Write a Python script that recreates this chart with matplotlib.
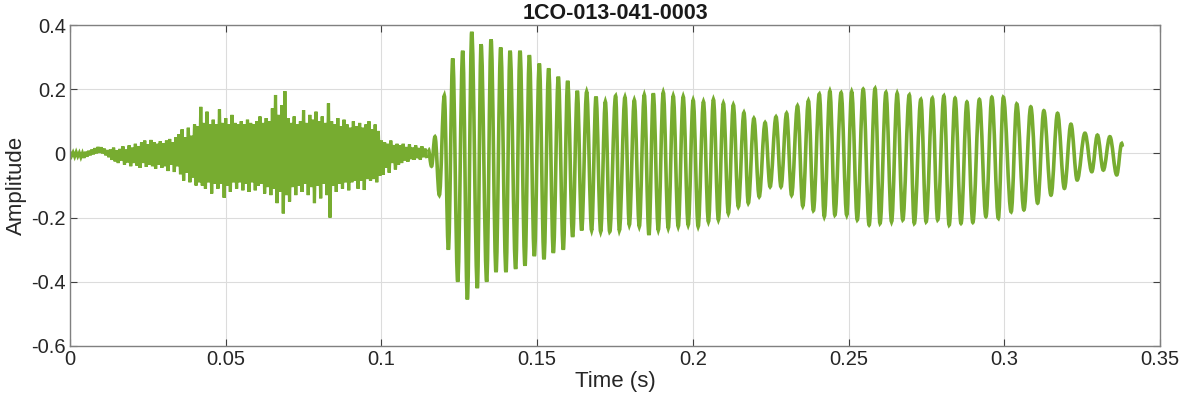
import numpy as np
import matplotlib
matplotlib.use("Agg")
import matplotlib.pyplot as plt
from matplotlib.path import Path
from matplotlib.patches import PathPatch

plt.rcParams['font.family'] = ['Liberation Sans', 'DejaVu Sans']

title = "1CO-013-041-0003"

# unvoiced part: upper / lower extremes in every 1 ms slot, from t = 0
noise_step = 0.001
noise_hi = [0.004, 0.003, 0.004, 0.002, 0.001, 0.005, 0.008, 0.012, 0.016, 0.020,
            0.019, 0.015, 0.010, 0.012, 0.018, 0.010, 0.014, 0.022, 0.012, 0.025,
            0.018, 0.030, 0.022, 0.035, 0.040, 0.028, 0.042, 0.035, 0.030, 0.038,
            0.032, 0.040, 0.045, 0.035, 0.050, 0.060, 0.075, 0.050, 0.080, 0.055,
            0.090, 0.085, 0.145, 0.095, 0.130, 0.090, 0.105, 0.090, 0.137, 0.095,
            0.110, 0.090, 0.120, 0.095, 0.090, 0.100, 0.090, 0.105, 0.095, 0.090,
            0.100, 0.115, 0.095, 0.110, 0.100, 0.140, 0.182, 0.120, 0.150, 0.194,
            0.110, 0.095, 0.115, 0.090, 0.100, 0.135, 0.095, 0.120, 0.105, 0.130,
            0.100, 0.115, 0.095, 0.156, 0.100, 0.090, 0.110, 0.085, 0.105, 0.090,
            0.080, 0.100, 0.085, 0.095, 0.080, 0.090, 0.100, 0.075, 0.090, 0.070,
            0.040, 0.035, 0.030, 0.040, 0.026, 0.030, 0.025, 0.030, 0.020, 0.028,
            0.018, 0.025, 0.017, 0.022, 0.015]
noise_lo = [-0.008, -0.010, -0.009, -0.012, -0.014, -0.010, -0.006, -0.003, 0.000, 0.002,
            0.000, -0.006, -0.012, -0.020, -0.025, -0.030, -0.022, -0.035, -0.028, -0.040,
            -0.030, -0.038, -0.045, -0.030, -0.042, -0.035, -0.040, -0.048, -0.035, -0.045,
            -0.040, -0.055, -0.035, -0.058, -0.040, -0.065, -0.085, -0.060, -0.090, -0.075,
            -0.100, -0.090, -0.100, -0.110, -0.090, -0.125, -0.095, -0.110, -0.095, -0.138,
            -0.100, -0.120, -0.090, -0.110, -0.090, -0.115, -0.095, -0.120, -0.090, -0.115,
            -0.100, -0.095, -0.125, -0.105, -0.130, -0.110, -0.155, -0.120, -0.187, -0.130,
            -0.150, -0.105, -0.130, -0.100, -0.120, -0.095, -0.130, -0.105, -0.155, -0.100,
            -0.140, -0.095, -0.130, -0.200, -0.100, -0.120, -0.095, -0.110, -0.090, -0.115,
            -0.090, -0.085, -0.110, -0.085, -0.114, -0.080, -0.085, -0.080, -0.090, -0.070,
            -0.067, -0.045, -0.060, -0.030, -0.050, -0.035, -0.030, -0.022, -0.026, -0.018,
            -0.020, -0.015, -0.020, -0.012, -0.010]

# voiced part: successive peaks and troughs (time s, amplitude)
voiced_t = [0.1150, 0.1161, 0.1172, 0.1186, 0.1202, 0.1215, 0.1229, 0.1245, 0.1261, 0.1276, 0.1290,
            0.1308, 0.1320, 0.1338, 0.1352, 0.1368, 0.1383, 0.1400, 0.1413, 0.1431, 0.1445,
            0.1461, 0.1475, 0.1491, 0.1507, 0.1522, 0.1537, 0.1552, 0.1568, 0.1584, 0.1598,
            0.1614, 0.1629, 0.1643, 0.1659, 0.1675, 0.1689, 0.1704, 0.1719, 0.1733, 0.1752,
            0.1764, 0.1782, 0.1796, 0.1812, 0.1828, 0.1844, 0.1859, 0.1873, 0.1889, 0.1905,
            0.1921, 0.1937, 0.1953, 0.1969, 0.1985, 0.2001, 0.2017, 0.2034, 0.2050, 0.2066,
            0.2082, 0.2098, 0.2114, 0.2130, 0.2146, 0.2164, 0.2178, 0.2196, 0.2213, 0.2232,
            0.2248, 0.2267, 0.2283, 0.2301, 0.2317, 0.2336, 0.2353, 0.2371, 0.2387, 0.2406,
            0.2422, 0.2440, 0.2456, 0.2476, 0.2494, 0.2510, 0.2528, 0.2547, 0.2566, 0.2585,
            0.2601, 0.2620, 0.2638, 0.2656, 0.2674, 0.2695, 0.2711, 0.2732, 0.2749, 0.2769,
            0.2786, 0.2806, 0.2823, 0.2842, 0.2861, 0.2880, 0.2899, 0.2920, 0.2941, 0.2960,
            0.2981, 0.2997, 0.3022, 0.3040, 0.3063, 0.3085, 0.3107, 0.3127, 0.3150, 0.3171,
            0.3193, 0.3214, 0.3234, 0.3259, 0.3281, 0.3299, 0.3318, 0.3339, 0.3361, 0.3377,
            0.3380]
voiced_a = [0.015, -0.040, 0.052, -0.130, 0.180, -0.300, 0.296, -0.400, 0.320, -0.455, 0.379,
            -0.420, 0.340, -0.400, 0.355, -0.370, 0.330, -0.370, 0.320, -0.360, 0.320,
            -0.350, 0.306, -0.320, 0.280, -0.330, 0.265, -0.310, 0.239, -0.300, 0.226,
            -0.260, 0.195, -0.240, 0.192, -0.240, 0.177, -0.244, 0.161, -0.244, 0.179,
            -0.240, 0.175, -0.223, 0.166, -0.228, 0.182, -0.254, 0.187, -0.239, 0.190,
            -0.233, 0.179, -0.228, 0.177, -0.223, 0.166, -0.228, 0.161, -0.213, 0.168,
            -0.207, 0.156, -0.187, 0.151, -0.166, 0.127, -0.155, 0.109, -0.135, 0.096,
            -0.104, 0.114, -0.104, 0.125, -0.130, 0.148, -0.164, 0.164, -0.178, 0.185,
            -0.197, 0.194, -0.192, 0.189, -0.192, 0.192, -0.207, 0.200, -0.223, 0.202,
            -0.218, 0.190, -0.213, 0.187, -0.207, 0.182, -0.218, 0.168, -0.213, 0.172,
            -0.207, 0.179, -0.223, 0.172, -0.218, 0.160, -0.215, 0.168, -0.197, 0.175,
            -0.202, 0.175, -0.182, 0.154, -0.176, 0.145, -0.155, 0.133, -0.130, 0.125,
            -0.109, 0.091, -0.083, 0.063, -0.057, 0.057, -0.052, 0.052, -0.067, 0.031,
            0.020]

green = '#77AC30'

# interleave the 1 ms extremes of the noisy part
noise_t = []
noise_a = []
for i, (hi, lo) in enumerate(zip(noise_hi, noise_lo)):
    noise_t += [i * noise_step, (i + 0.5) * noise_step]
    noise_a += [hi, lo]

fig = plt.figure(figsize=(11.82, 4.04), dpi=100)
ax = fig.add_axes([0.0592, 0.1436, 0.9222, 0.7945])
ax.plot(noise_t, noise_a, color=green, lw=2.3, solid_joinstyle='miter')

# voiced cycles: smooth curve through each peak/trough (flat tangent at the extremes)
verts = [(voiced_t[0], voiced_a[0])]
codes = [Path.MOVETO]
for k in range(1, len(voiced_t)):
    t0, a0 = voiced_t[k - 1], voiced_a[k - 1]
    t1, a1 = voiced_t[k], voiced_a[k]
    dt = t1 - t0
    verts += [(t0 + dt * 0.36, a0), (t1 - dt * 0.36, a1), (t1, a1)]
    codes += [Path.CURVE4] * 3
ax.add_patch(PathPatch(Path(verts, codes), facecolor='none', edgecolor=green, lw=2.6))

ax.set_xlim(0, 0.35)
ax.set_ylim(-0.6, 0.4)
ax.set_xticks(np.arange(0, 0.351, 0.05))
ax.set_xticklabels(['0', '0.05', '0.1', '0.15', '0.2', '0.25', '0.3', '0.35'])
ax.set_yticks(np.arange(-0.6, 0.41, 0.2))
ax.set_yticklabels(['-0.6', '-0.4', '-0.2', '0', '0.2', '0.4'])
ax.grid(True, color='#dcdcdc', lw=0.8)
ax.set_axisbelow(True)
for s in ax.spines.values():
    s.set_color('#808080')
    s.set_linewidth(1.0)
ax.tick_params(direction='in', top=True, right=True, length=5, color='#404040',
               labelsize=14.5, labelcolor='#262626', pad=3)
ax.set_xlabel('Time (s)', fontsize=16, color='#262626', labelpad=1)
ax.set_ylabel('Amplitude', fontsize=16, color='#262626', labelpad=3)
ax.set_title(title, fontsize=15.5, fontweight='bold', color='#1a1a1a', pad=4)

fig.savefig('out.png', dpi=100)
